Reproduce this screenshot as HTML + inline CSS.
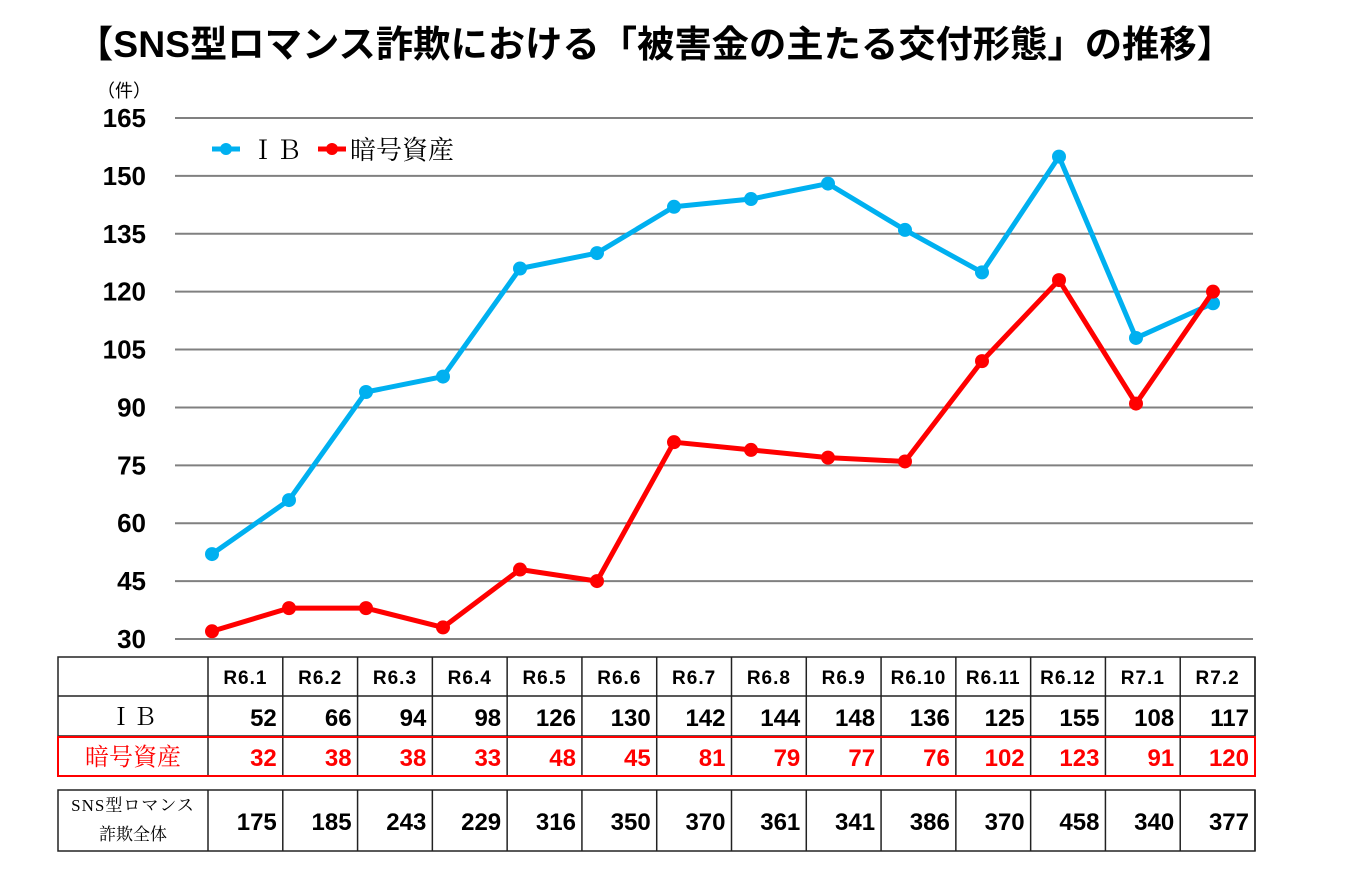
<!DOCTYPE html>
<html><head><meta charset="utf-8"><style>
body{margin:0;background:#fff;width:1370px;height:878px;overflow:hidden}
svg{display:block}
.t{font-family:"Liberation Sans","Noto Sans CJK JP",sans-serif}
.s{font-family:"Liberation Serif","Noto Serif CJK SC",serif}
</style></head><body>
<svg id="c" width="1370" height="878">
<text class="t" x="76" y="57" font-size="37" font-weight="bold" textLength="1158" lengthAdjust="spacingAndGlyphs">【SNS型ロマンス詐欺における「被害金の主たる交付形態」の推移】</text>
<text class="t" x="97" y="97" font-size="18">（件）</text>
<g>
<line x1="212" y1="149" x2="240" y2="149" stroke="#00b0f0" stroke-width="5"/>
<circle cx="226" cy="149" r="6" fill="#00b0f0"/>
<text class="s" x="250" y="159" font-size="26">ＩＢ</text>
<line x1="318" y1="149" x2="346" y2="149" stroke="#ff0000" stroke-width="5"/>
<circle cx="332" cy="149" r="6" fill="#ff0000"/>
<text class="s" x="350" y="159" font-size="26">暗号資産</text>
</g>
</svg>
<script>
const categories=["R6.1","R6.2","R6.3","R6.4","R6.5","R6.6","R6.7","R6.8","R6.9","R6.10","R6.11","R6.12","R7.1","R7.2"];
const ibValues=[52,66,94,98,126,130,142,144,148,136,125,155,108,117];
const cryptoValues=[32,38,38,33,48,45,81,79,77,76,102,123,91,120];
const totalValues=[175,185,243,229,316,350,370,361,341,386,370,458,340,377];
const yTicks=[30,45,60,75,90,105,120,135,150,165];
const NS="http://www.w3.org/2000/svg";
const svg=document.getElementById('c');
function y(v){return 639-(v-30)*(521/135);}
function x(i){return 212+i*(1213-212)/(categories.length-1);}
function mk(tag,attrs,parent){const e=document.createElementNS(NS,tag);for(const k in attrs)e.setAttribute(k,attrs[k]);(parent||svg).appendChild(e);return e;}
const grid=mk('g',{});


yTicks.forEach(v=>{
 const l=mk('line',{x1:175,x2:1253,y1:y(v),y2:y(v),stroke:'#808080','stroke-width':2},grid);
 
 
 const t=mk('text',{x:146,y:y(v)+9,'font-size':26,'font-weight':'bold','text-anchor':'end',class:'t'});
 t.textContent=v;
 
 
});
function series(vals,color,name){
 const g=mk('g',{});
 
 
 const p=mk('polyline',{points:vals.map((v,i)=>x(i)+','+y(v)).join(' '),fill:'none',stroke:color,'stroke-width':5,'stroke-linejoin':'round'},g);
 
 
 vals.forEach((v,i)=>{
  const c=mk('circle',{cx:x(i),cy:y(v),r:7,fill:color},g);
  
  
 });
}
series(ibValues,'#00b0f0','ib');
series(cryptoValues,'#ff0000','crypto');
const tb=mk('g',{});


const L=58,C0=208,R=1255,cw=(R-C0)/categories.length;
function cx(i){return C0+i*cw;}
function rect(x1,y1,x2,y2,col,w,n){const r=mk('rect',{x:x1,y:y1,width:x2-x1,height:y2-y1,fill:'none',stroke:col,'stroke-width':w},tb);}
function vline(xx,y1,y2){const l=mk('line',{x1:xx,x2:xx,y1:y1,y2:y2,stroke:'#222','stroke-width':1.5},tb);}
function hline(yy){const l=mk('line',{x1:L,x2:R,y1:yy,y2:yy,stroke:'#222','stroke-width':1.5},tb);}
rect(L,657,R,776,'#222',1.5,'table-main-border');
hline(696);hline(736);
for(let i=0;i<=categories.length;i++){vline(cx(i),657,776);vline(cx(i),790,851);}
rect(L,790,R,851,'#222',1.5,'table-total-border');
rect(L,737,R,776,'#ff0000',2,'table-crypto-row-border');
function txt(s,xx,yy,opt,name){const t=mk('text',Object.assign({x:xx,y:yy},opt),tb);t.textContent=s;return t;}
categories.forEach((c,i)=>{
 txt(c,cx(i)+cw/2,684,{'font-size':19,'font-weight':'bold','text-anchor':'middle',class:'t','letter-spacing':'1'},'header-'+c);
 txt(ibValues[i],cx(i+1)-6,726,{'font-size':24,'font-weight':'bold','text-anchor':'end',class:'t'},'ib-value-'+c);
 txt(cryptoValues[i],cx(i+1)-6,766,{'font-size':24,'font-weight':'bold','text-anchor':'end',class:'t',fill:'#ff0000'},'crypto-value-'+c);
 txt(totalValues[i],cx(i+1)-6,830,{'font-size':24,'font-weight':'bold','text-anchor':'end',class:'t'},'total-value-'+c);
});
txt('ＩＢ',133,725,{'font-size':24,'text-anchor':'middle',class:'s'},'row-label-ib');
txt('暗号資産',133,765,{'font-size':24,'text-anchor':'middle',class:'s',fill:'#ff0000'},'row-label-crypto');
txt('SNS型ロマンス',133,811,{'font-size':17,'text-anchor':'middle',class:'s','letter-spacing':'1'},'row-label-total-1');
txt('詐欺全体',133,840,{'font-size':17,'text-anchor':'middle',class:'s'},'row-label-total-2');
</script>
</body></html>
